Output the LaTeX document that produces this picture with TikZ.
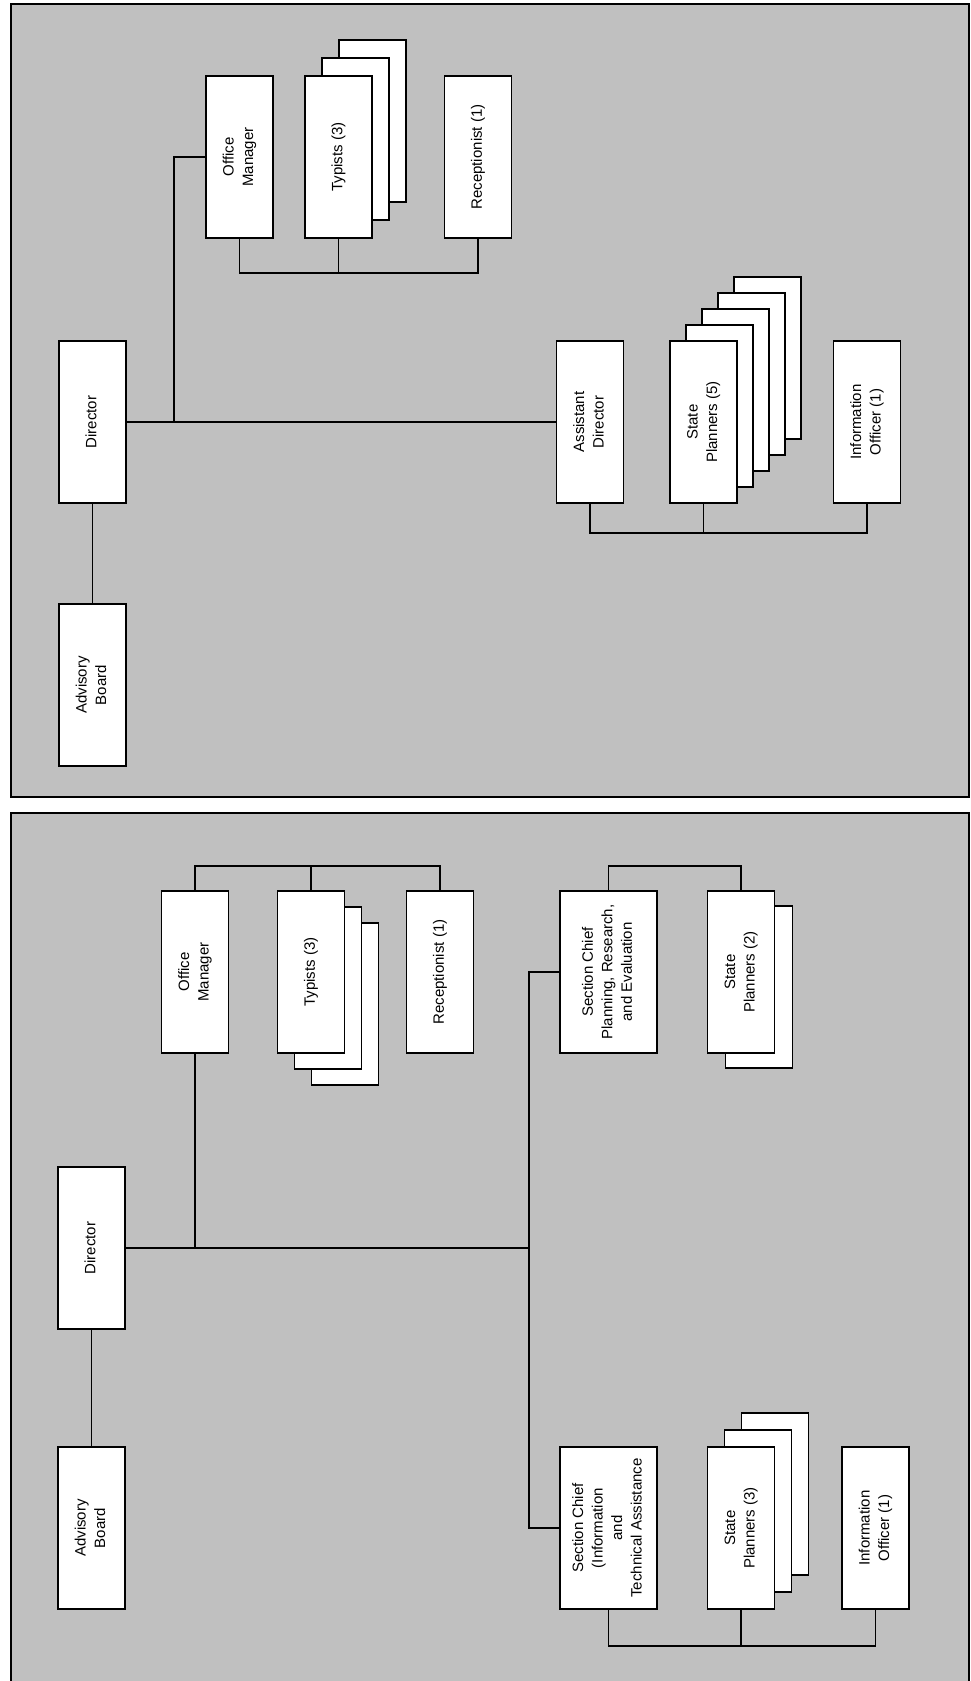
\documentclass[tikz,border=0pt]{standalone}
\usepackage{fontspec}
\setmainfont{Liberation Sans}
\usepackage{graphicx}
\usetikzlibrary{positioning,calc}
\definecolor{chartgray}{RGB}{192,192,192}
\newcommand{\vlabel}[1]{\rotatebox{90}{\begin{tabular}{@{}c@{}}#1\end{tabular}}}

\begin{document}
\begin{tikzpicture}[x=1pt,y=-1pt,every node/.style={font=\fontsize{15}{19.5}\selectfont},
    unit/.style={draw,fill=white,line width=1.6pt,inner sep=0pt,minimum width=67pt,minimum height=162pt},
    wide/.style={unit,minimum width=97pt},
    link/.style={line width=1.2pt}]
      \useasboundingbox (0,0) rectangle (971,1681);
      \fill[white] (0,0) rectangle (971,1681);
      % upper chart
      \draw[fill=chartgray,line width=2.5pt] (11,4) rectangle (969,797);
      \node[unit] (adv) at (92.5,685) {\vlabel{Advisory\\Board}};
      \node[unit] (dir) at (92.5,422) {\vlabel{Director}};
      \node[unit] (om) at (239.5,157) {\vlabel{Office\\Manager}};
      \foreach \k in {2,1}
        \node[unit] (typ\k) at (338.5+17*\k,157-18*\k) {};
      \node[unit] (typ) at (338.5,157) {\vlabel{Typists (3)}};
      \node[unit] (rec) at (478,157) {\vlabel{Receptionist (1)}};
      \node[unit] (ad) at (590,422) {\vlabel{Assistant\\Director}};
      \foreach \k in {4,3,2,1}
        \node[unit] (sp\k) at (703.5+16*\k,422-16*\k) {};
      \node[unit] (sp) at (703.5,422) {\vlabel{State\\Planners (5)}};
      \node[unit] (io) at (867,422) {\vlabel{Information\\Officer (1)}};
      \coordinate (jo) at (174,0);
      \coordinate (ob) at (0,273);
      \coordinate (ab) at (0,533);
      \draw[link] (adv.north) -- (dir.south);
      \draw[link] (dir.east) -- (ad.west);
      \draw[link] (dir.east -| jo) |- (om.west);
      \draw[link] (om.south) -- (om.south |- ob) -| (rec.south);
      \draw[link] (typ.south) -- (typ.south |- ob);
      \draw[link] (ad.south) -- (ad.south |- ab) -| (io.south);
      \draw[link] (sp.south) -- (sp.south |- ab);
      % lower chart
      \draw[fill=chartgray,line width=2.5pt] (11,813) rectangle (969,1686);
      \node[unit] (omB) at (195,972) {\vlabel{Office\\Manager}};
      \foreach \k in {2,1}
        \node[unit] (typB\k) at (311+17*\k,972+16*\k) {};
      \node[unit] (typB) at (311,972) {\vlabel{Typists (3)}};
      \node[unit] (recB) at (440,972) {\vlabel{Receptionist (1)}};
      \node[wide] (scp) at (608.5,972) {\vlabel{Section Chief\\Planning, Research,\\and Evaluation}};
      \node[unit] (spB1) at (741+18,972+15) {};
      \node[unit] (spB) at (741,972) {\vlabel{State\\Planners (2)}};
      \node[unit] (dirB) at (91.5,1248) {\vlabel{Director}};
      \node[unit] (advB) at (91.5,1528) {\vlabel{Advisory\\Board}};
      \node[wide] (sci) at (608.5,1528) {\vlabel{Section Chief\\(Information\\and\\Technical Assistance}};
      \foreach \k in {2,1}
        \node[unit] (spC\k) at (741+17*\k,1528-17*\k) {};
      \node[unit] (spC) at (741,1528) {\vlabel{State\\Planners (3)}};
      \node[unit] (ioB) at (875.5,1528) {\vlabel{Information\\Officer (1)}};
      \coordinate (jb) at (529,1248);
      \coordinate (tb) at (0,866);
      \coordinate (bb) at (0,1646);
      \draw[link] (advB.north) -- (dirB.south);
      \draw[link] (dirB.east) -- (jb);
      \draw[link] (scp.west) -| (jb) |- (sci.west);
      \draw[link] (omB.south) -- (omB.south |- jb);
      \draw[link] (omB.north) -- (omB.north |- tb) -| (recB.north);
      \draw[link] (typB.north) -- (typB.north |- tb);
      \draw[link] (scp.north) -- (scp.north |- tb) -| (spB.north);
      \draw[link] (sci.south) -- (sci.south |- bb) -| (ioB.south);
      \draw[link] (spC.south) -- (spC.south |- bb);
    \end{tikzpicture}
\end{document}
